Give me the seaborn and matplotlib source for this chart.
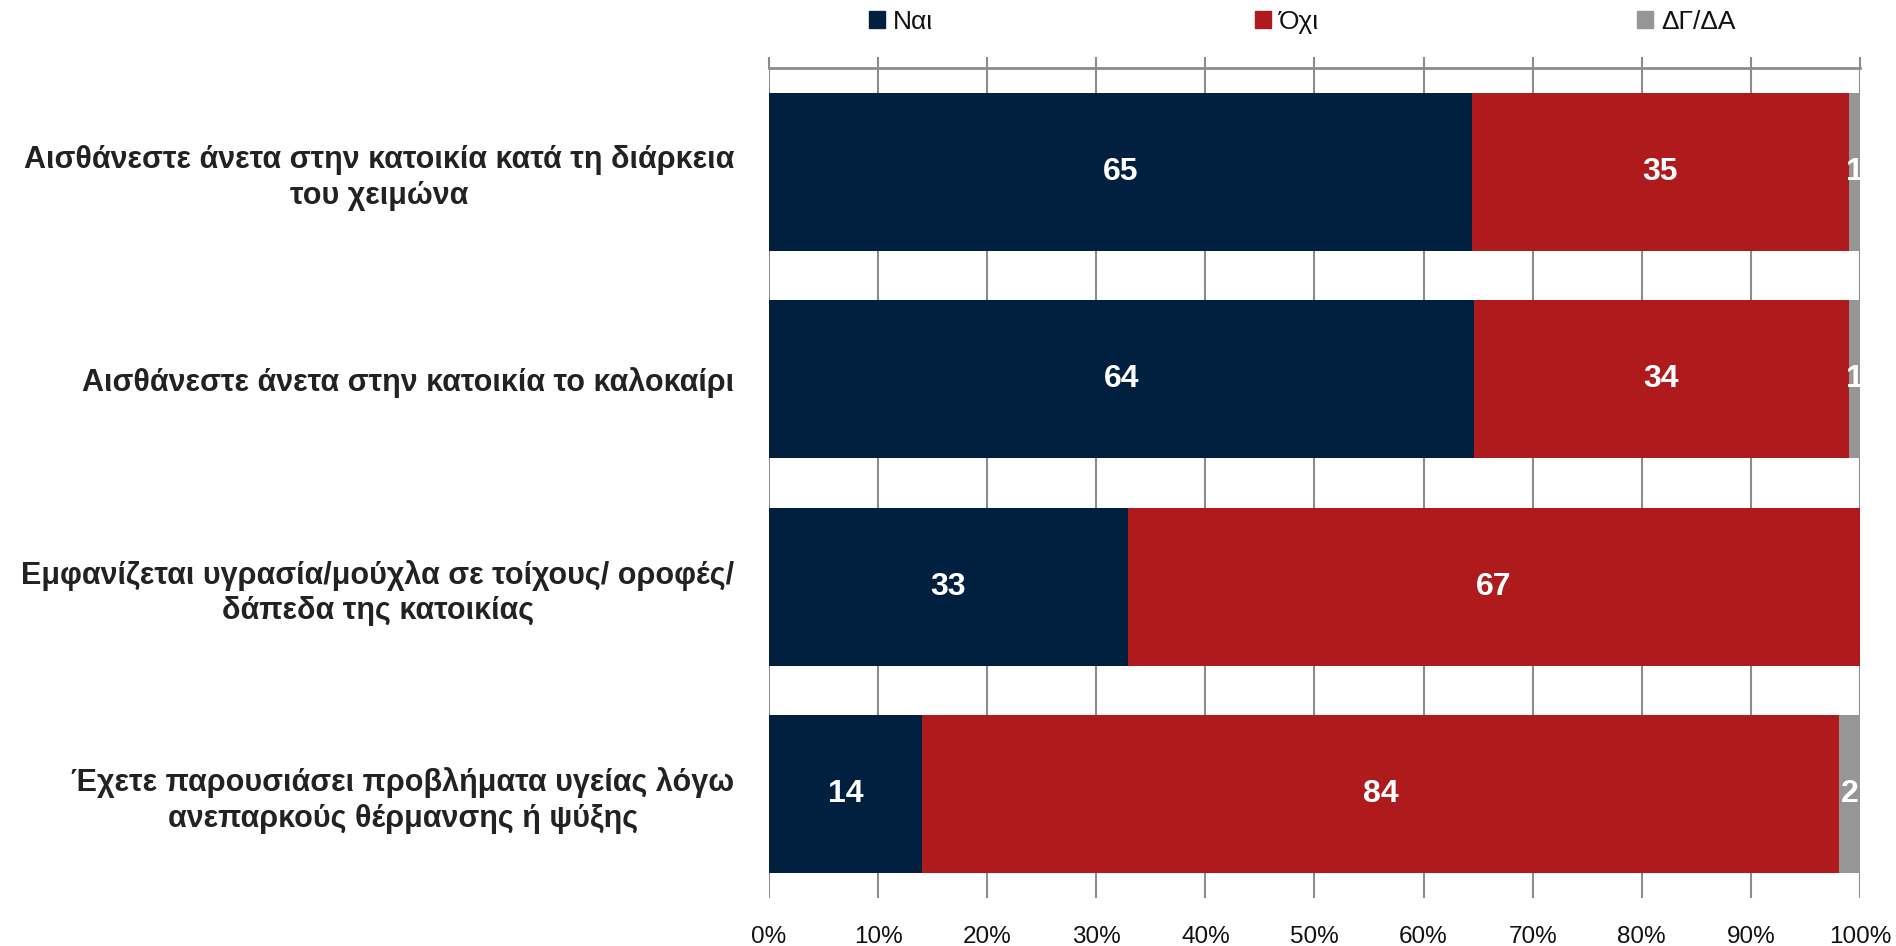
"""
Stacked horizontal bar chart: housing comfort survey (Ναι / Όχι / ΔΓ/ΔΑ).
"""

import matplotlib

matplotlib.use("Agg")
import matplotlib.pyplot as plt
import matplotlib.patches as mpatches
import pandas as pd
import seaborn as sns

# data
questions = [
    "Αισθάνεστε άνετα στην κατοικία κατά τη διάρκεια\nτου χειμώνα",
    "Αισθάνεστε άνετα στην κατοικία το καλοκαίρι",
    "Εμφανίζεται υγρασία/μούχλα σε τοίχους/ οροφές/\nδάπεδα της κατοικίας",
    "Έχετε παρουσιάσει προβλήματα υγείας λόγω\nανεπαρκούς θέρμανσης ή ψύξης",
]
yes_vals = [64.4, 64.6, 32.9, 14.0]
no_vals = [34.6, 34.4, 67.1, 84.1]
dk_vals = [1.0, 1.0, 0.0, 1.9]

# printed labels (rounded as in the source)
yes_labels = ["65", "64", "33", "14"]
no_labels = ["35", "34", "67", "84"]
dk_labels = ["1", "1", "", "2"]

series_names = ["Ναι", "Όχι", "ΔΓ/ΔΑ"]
colors = ["#012040", "#AF1A1D", "#969696"]

df = pd.DataFrame(
    {"question": questions, "yes": yes_vals, "no": no_vals, "dk": dk_vals}
)
df["cum_yes"] = df["yes"]
df["cum_no"] = df["yes"] + df["no"]
df["cum_dk"] = df["cum_no"] + df["dk"]

sns.set_style("white")
plt.rcParams["font.family"] = ["Liberation Sans", "DejaVu Sans"]

fig = plt.figure(figsize=(18.96, 9.46), dpi=100)
ax = fig.add_axes([0.4056, 0.0507, 0.5754, 0.8775])

# draw cumulative totals, widest first, so each layer shows as a segment
for col, color in zip(["cum_dk", "cum_no", "cum_yes"], colors[::-1]):
    sns.barplot(
        data=df, x=col, y="question", orient="h", color=color,
        width=0.76, saturation=1, linewidth=0, ax=ax, zorder=3,
    )

# value labels in segment centres
for i in range(len(questions)):
    starts = [0, df["cum_yes"][i], df["cum_no"][i]]
    widths = [yes_vals[i], no_vals[i], dk_vals[i]]
    labels = [yes_labels[i], no_labels[i], dk_labels[i]]
    for s, w, lab in zip(starts, widths, labels):
        if lab:
            ax.text(s + w / 2, i, lab, ha="center", va="center", color="white",
                    fontsize=23, fontweight="bold", zorder=5)

ax.set_xlim(0, 100)
ax.set_ylim(3.5, -0.5)
ax.set_xticks(range(0, 101, 10))
ax.set_xticklabels([f"{t}%" for t in range(0, 101, 10)], fontsize=17.5, color="#111111")
ax.xaxis.grid(True, color="#8c8c8c", linewidth=1.5, zorder=1)
ax.yaxis.grid(False)
ax.set_axisbelow(True)
ax.tick_params(axis="x", bottom=False, top=True, labelbottom=True, labeltop=False,
               length=8, width=1.5, color="#8c8c8c", pad=12)
ax.tick_params(axis="y", length=0, pad=25)
ax.set_yticks(range(len(questions)))
ax.set_yticklabels(questions, fontsize=22, fontweight="bold", color="#222222",
                   multialignment="center", linespacing=1.25)
ax.set_xlabel("")
ax.set_ylabel("")

for side in ["left", "right", "bottom"]:
    ax.spines[side].set_visible(False)
ax.spines["top"].set_visible(True)
ax.spines["top"].set_color("#8c8c8c")
ax.spines["top"].set_linewidth(2)

# one legend entry per slot, spread across the top like the source
legend_x = [0.4583, 0.6619, 0.8634]
for c, n, lx in zip(colors, series_names, legend_x):
    leg = fig.legend(handles=[mpatches.Patch(color=c, label=n)], loc="center left",
                     bbox_to_anchor=(lx, 0.977), frameon=False, fontsize=19,
                     handlelength=0.6, handleheight=0.6, handletextpad=0.3,
                     borderpad=0, borderaxespad=0)
    for t in leg.get_texts():
        t.set_color("#111111")

fig.savefig("out.png", dpi=100)
